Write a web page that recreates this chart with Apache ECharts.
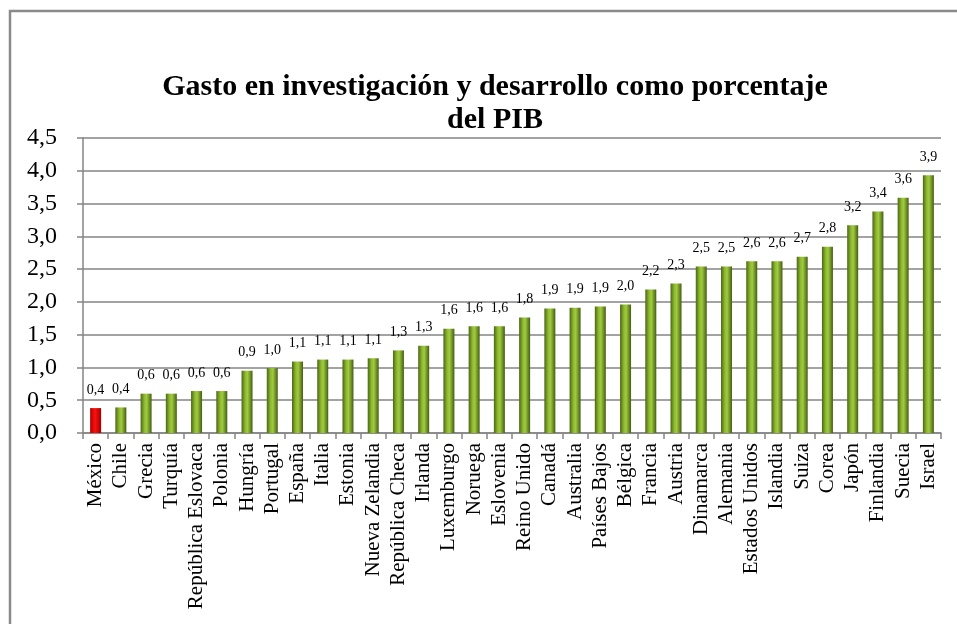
<!DOCTYPE html>
<html>
<head>
<meta charset="utf-8">
<script src="https://cdn.jsdelivr.net/npm/echarts@6/dist/echarts.min.js"></script>
<style>
html,body{margin:0;padding:0;background:#fff;}
#chart{width:957px;height:624px;}
</style>
</head>
<body>
<div id="chart"></div>
<script>
const categories = ["México","Chile","Grecia","Turquía","República Eslovaca","Polonia","Hungría","Portugal","España","Italia","Estonia","Nueva Zelandia","República Checa","Irlanda","Luxemburgo","Noruega","Eslovenia","Reino Unido","Canadá","Australia","Países Bajos","Bélgica","Francia","Austria","Dinamarca","Alemania","Estados Unidos","Islandia","Suiza","Corea","Japón","Finlandia","Suecia","Israel"];
const values = [0.38,0.39,0.60,0.60,0.64,0.64,0.95,0.99,1.09,1.12,1.12,1.14,1.26,1.33,1.59,1.63,1.63,1.76,1.90,1.91,1.93,1.96,2.19,2.28,2.54,2.54,2.62,2.62,2.69,2.84,3.17,3.38,3.59,3.93];
const highlight = "México";
const yTicks = {min:0, max:4.5, interval:0.5};
const titleText = "Gasto en investigación y desarrollo como porcentaje\ndel PIB";

const serif = "'Liberation Serif','Times New Roman',serif";
const greenGrad = new echarts.graphic.LinearGradient(0,0,1,0,[
  {offset:0,color:'#4a6614'},
  {offset:0.35,color:'#8fba30'},
  {offset:0.55,color:'#a0cb3e'},
  {offset:1,color:'#445e12'}
]);
const redGrad = new echarts.graphic.LinearGradient(0,0,1,0,[
  {offset:0,color:'#b00000'},
  {offset:0.45,color:'#ff1010'},
  {offset:1,color:'#a00000'}
]);

const chart = echarts.init(document.getElementById('chart'));
chart.setOption({
  animation:false,
  backgroundColor:'#fff',
  graphic:[{
    type:'polyline',
    shape:{points:[[10,640],[10,11],[960,11]]},
    style:{stroke:'#8a8a8a',lineWidth:2.5,fill:null}
  }],
  title:{
    text:titleText,
    left:490,
    textAlign:'center',
    top:66,
    textStyle:{fontFamily:serif,fontSize:30,fontWeight:'bold',color:'#000',lineHeight:33}
  },
  grid:{left:83,right:16,top:138,bottom:191},
  xAxis:{
    type:'category',
    data:categories,
    axisLine:{lineStyle:{color:'#858585',width:1.5}},
    axisTick:{show:true,length:6,lineStyle:{color:'#858585',width:1.5}},
    axisLabel:{rotate:90,interval:0,fontFamily:serif,fontSize:21,color:'#000',margin:10}
  },
  yAxis:{
    type:'value',
    min:yTicks.min,max:yTicks.max,interval:yTicks.interval,
    axisLine:{show:true,lineStyle:{color:'#858585',width:1.5}},
    axisTick:{show:true,length:6,lineStyle:{color:'#858585',width:1.5}},
    splitLine:{lineStyle:{color:'#858585',width:1.5}},
    axisLabel:{fontFamily:serif,fontSize:24,color:'#000',margin:26,
      formatter:v=>v.toFixed(1).replace('.',',')}
  },
  series:[{
    type:'bar',
    barWidth:11,
    data:values.map((v,i)=>({value:v,itemStyle:{color:categories[i]===highlight?redGrad:greenGrad}})),
    label:{show:true,position:'top',distance:11,fontFamily:serif,fontSize:14,color:'#000',
      formatter:p=>p.value.toFixed(1).replace('.',',')}
  }]
});
</script>
</body>
</html>
